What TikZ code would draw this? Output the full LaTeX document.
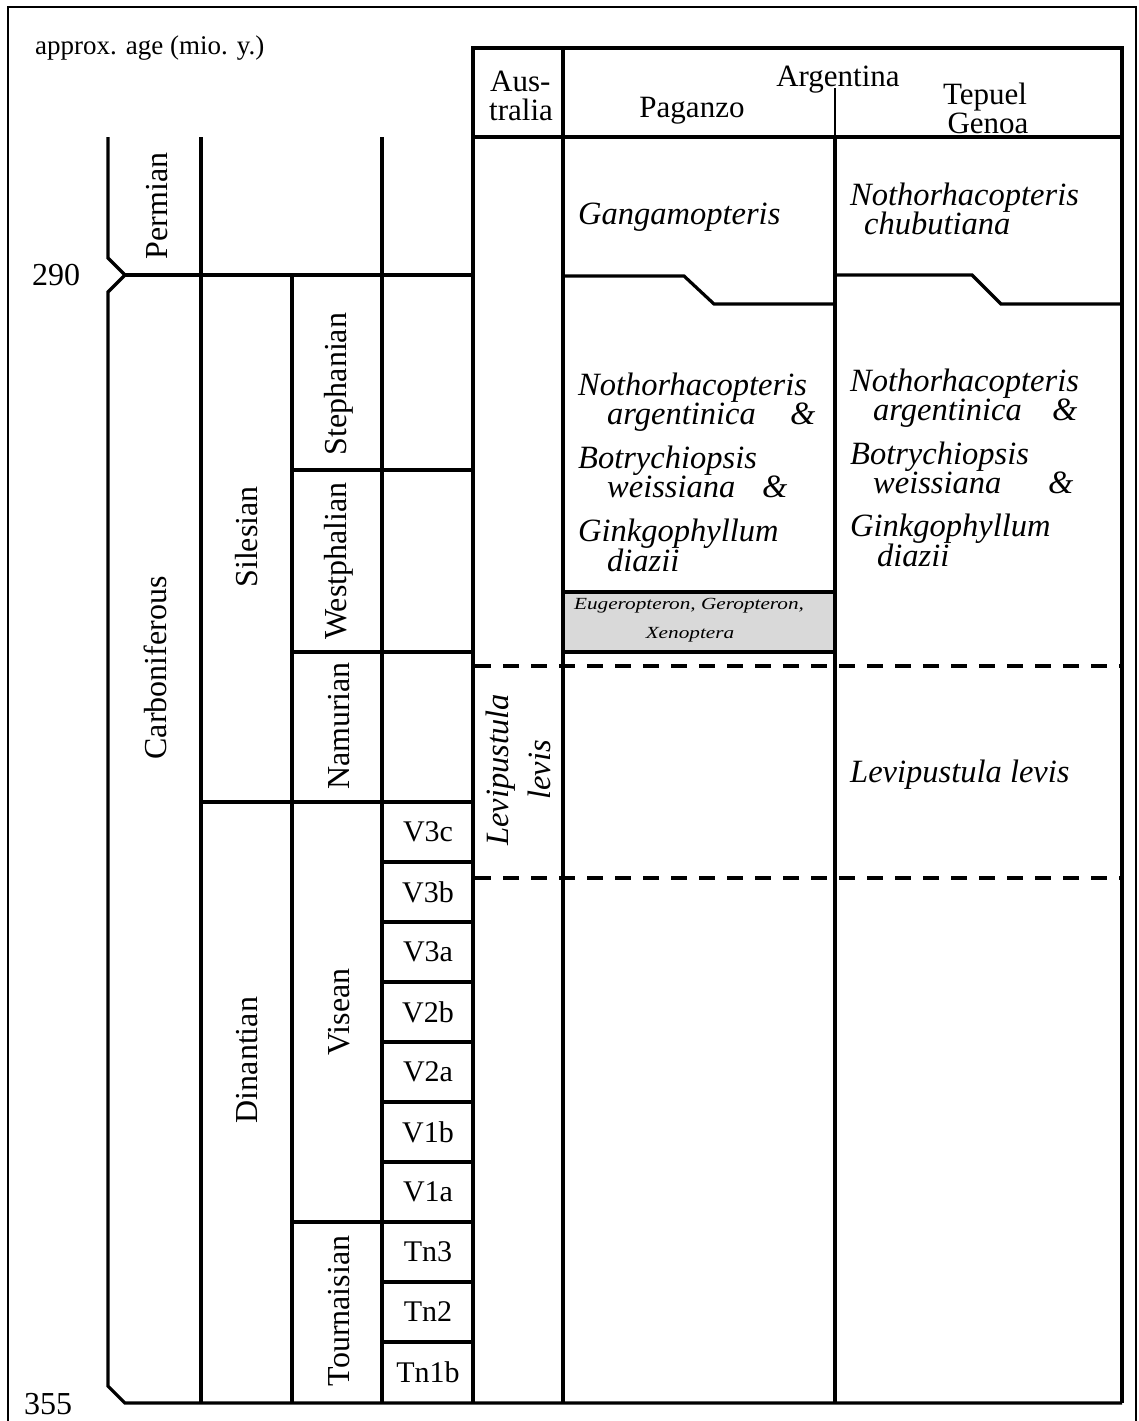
\documentclass[tikz,border=0pt]{standalone}
\usepackage{fontspec}
\setmainfont{Liberation Serif}
\begin{document}
\begin{tikzpicture}[x=1pt,y=-1pt,
  ln/.style={line width=3.2pt},
  thin/.style={line width=1.4pt},
  dsh/.style={line width=3.2pt, dash pattern=on 16pt off 12pt},
  rl/.style={font=\fontsize{32}{32}\selectfont, rotate=90, inner sep=0},
  lab/.style={font=\fontsize{30}{30}\selectfont, inner sep=0},
  hd/.style={font=\fontsize{31}{26}\selectfont, inner sep=0, anchor=base west},
  it/.style={font=\fontsize{32.5}{32}\selectfont\itshape, inner sep=0, anchor=base west},
  sm/.style={font=\fontsize{17}{17}\selectfont\itshape, inner sep=0, anchor=base}]
\useasboundingbox (0,0) rectangle (1138,1421);
% outer frame
\draw[thin] (8,1421) -- (8,7) -- (1136,7) -- (1136,1421);
% shaded box
\fill[gray!30] (563,592) rectangle (835,652);
% left stratigraphic columns
\draw[ln] (108,137) -- (108,258) -- (125,275) -- (108,292) -- (108,1386) -- (125,1403) -- (1122,1403);
\draw[ln] (201,137) -- (201,1403);
\draw[ln] (382,137) -- (382,1403);
\draw[ln] (292,275) -- (292,1403);
\draw[ln] (125,275) -- (473,275);
\draw[ln] (292,470) -- (473,470);
\draw[ln] (292,652) -- (473,652);
\draw[ln] (201,802) -- (473,802);
\draw[ln] (292,1222) -- (473,1222);
\foreach \yy in {862,922,982,1042,1102,1162,1282,1342}
  \draw[ln] (382,\yy) -- (473,\yy);
% table
\draw[ln] (473,1403) -- (473,48) -- (1122,48) -- (1122,1403);
\draw[ln] (563,48) -- (563,1403);
\draw[ln] (835,137) -- (835,1403);
\draw[thin] (835,88) -- (835,137);
\draw[ln] (473,137) -- (1122,137);
\draw[ln] (563,276) -- (684,276) -- (714,304) -- (835,304);
\draw[ln] (835,275) -- (972,275) -- (1001,304) -- (1122,304);
\draw[ln] (563,592) -- (835,592);
\draw[ln] (563,652) -- (835,652);
\draw[dsh] (475,666) -- (1122,666);
\draw[dsh] (475,878) -- (1122,878);
% left texts
\node[font=\fontsize{27}{27}\selectfont, inner sep=0, anchor=base west] (age) at (35,55) {approx. age (mio. y.)};
\node[font=\fontsize{32}{32}\selectfont, inner sep=0, anchor=base west] (a290) at (32,285) {290};
\node[font=\fontsize{32}{32}\selectfont, inner sep=0, anchor=base west] (a355) at (24,1414) {355};
\node[rl] (perm) at (157,206) {Permian};
\node[rl] (carb) at (155,668) {Carboniferous};
\node[rl] (sil) at (247,537) {Silesian};
\node[rl] (din) at (247,1060) {Dinantian};
\node[rl] (steph) at (339,384) {Stephanian};
\node[rl] (westph) at (339,561) {Westphalian};
\node[rl] (nam) at (339,726) {Namurian};
\node[rl] (vis) at (339,1012) {Visean};
\node[rl] (tour) at (339,1311) {Tournaisian};
\foreach \t/\yy/\nm in {V3c/832/v3c,V3b/892/v3b,V3a/952/v3a,V2b/1012/v2b,V2a/1072/v2a,V1b/1132/v1b,V1a/1192/v1a,Tn3/1252/tn3,Tn2/1312/tn2,Tn1b/1372/tn1b}
  \node[lab] (\nm) at (428,\yy) {\t};
% header
\node[hd] (aus1) at (490,92) {Aus-};
\node[hd] (aus2) at (489,120) {tralia};
\node[hd, anchor=base] (arg) at (838,86) {Argentina};
\node[hd, anchor=base] (pag) at (692,117) {Paganzo};
\node[hd, anchor=base] (tep) at (985,104) {Tepuel};
\node[hd, anchor=base] (gen) at (988,133) {Genoa};
% Australia
\node[font=\fontsize{32.5}{42}\selectfont\itshape, rotate=90, inner sep=0, align=center] (ausl) at (518,770) {Levipustula\\levis};
% Paganzo
\node[it] (pg) at (578,224) {Gangamopteris};
\node[it] (pn1) at (578,395) {Nothorhacopteris};
\node[it] (pn2) at (607,424) {argentinica};
\node[it] (pn3) at (790,424) {\&};
\node[it] (pb1) at (578,468) {Botrychiopsis};
\node[it] (pb2) at (607,497) {weissiana};
\node[it] (pb3) at (762,497) {\&};
\node[it] (pk1) at (578,541) {Ginkgophyllum};
\node[it] (pk2) at (607,571) {diazii};
\node[sm] (ins1) at (689,609) {\scalebox{1.25}[1]{Eugeropteron, Geropteron,}};
\node[sm] (ins2) at (690,638) {\scalebox{1.25}[1]{Xenoptera}};
% Tepuel Genoa
\node[it] (tc1) at (850,205) {Nothorhacopteris};
\node[it] (tc2) at (864,234) {chubutiana};
\node[it] (tn1) at (850,391) {Nothorhacopteris};
\node[it] (tn2) at (873,420) {argentinica};
\node[it] (tn3) at (1052,420) {\&};
\node[it] (tb1) at (850,464) {Botrychiopsis};
\node[it] (tb2) at (873,493) {weissiana};
\node[it] (tb3) at (1048,493) {\&};
\node[it] (tk1) at (850,536) {Ginkgophyllum};
\node[it] (tk2) at (877,566) {diazii};
\node[it] (tl) at (850,782) {Levipustula levis};
\end{tikzpicture}
\end{document}
